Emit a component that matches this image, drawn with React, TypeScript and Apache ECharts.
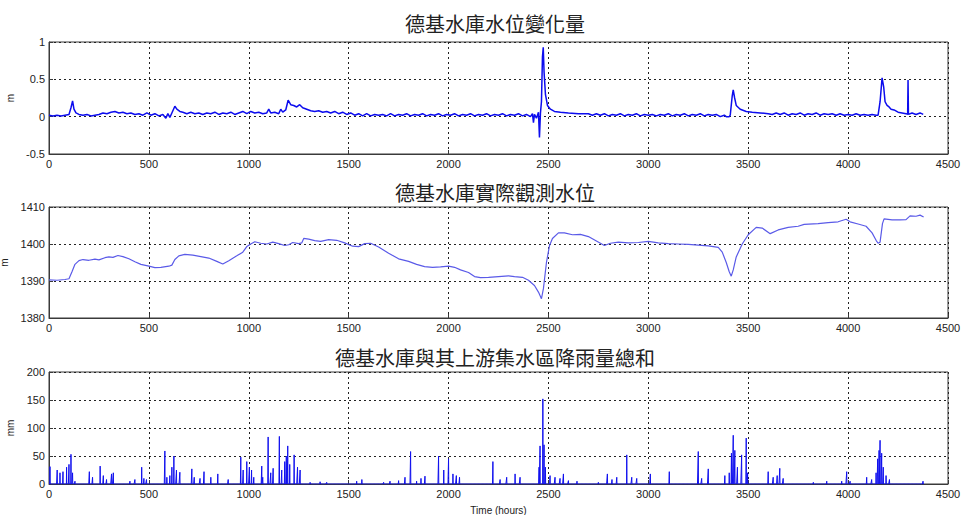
import React, { useEffect, useRef } from 'react';
import * as echarts from 'echarts';

const TITLES = ['德基水庫水位變化量', '德基水庫實際觀測水位', '德基水庫與其上游集水區降雨量總和'];
const Y_NAMES = ['m', 'm', 'mm'];
const X_NAME = 'Time (hours)';
const X_RANGE = [0, 4500, 500];
const Y_RANGES = [
  [-0.5, 1, 0.5],
  [1380, 1410, 10],
  [0, 200, 50],
];
const LAST_HOUR = 4380;

// water level change (m) : [hour, value]
const levelChange: [number, number][] = [
  [0, 0.02], [20, 0.01], [40, 0.02], [60, 0.01], [80, 0.02], [100, 0.03], [110, 0.12], [118, 0.21], [125, 0.1],
  [135, 0.05], [150, 0.03], [170, 0.02], [190, 0.03], [210, 0.01], [230, 0.02], [250, 0.03], [270, 0.05],
  [290, 0.04], [310, 0.06], [330, 0.07], [350, 0.05], [370, 0.06], [390, 0.04], [410, 0.05], [430, 0.03],
  [450, 0.04], [470, 0.02], [490, 0.05], [510, 0.02], [530, 0.04], [550, 0.01], [570, 0.03], [585, -0.02],
  [595, 0.04], [605, -0.01], [615, 0.05], [630, 0.14], [640, 0.1], [655, 0.07], [670, 0.06], [690, 0.04],
  [710, 0.06], [730, 0.04], [750, 0.05], [770, 0.03], [790, 0.05], [810, 0.04], [830, 0.06], [850, 0.03],
  [870, 0.05], [890, 0.04], [910, 0.06], [930, 0.03], [950, 0.05], [970, 0.07], [990, 0.04], [1010, 0.07],
  [1030, 0.05], [1050, 0.06], [1070, 0.04], [1090, 0.05], [1100, 0.1], [1110, 0.05], [1130, 0.06], [1150, 0.04],
  [1160, 0.1], [1170, 0.06], [1185, 0.09], [1197, 0.22], [1210, 0.16], [1225, 0.15], [1240, 0.13], [1255, 0.16],
  [1270, 0.12], [1290, 0.1], [1310, 0.08], [1330, 0.07], [1350, 0.08], [1370, 0.06], [1390, 0.07], [1410, 0.05],
  [1430, 0.07], [1450, 0.04], [1470, 0.06], [1490, 0.03], [1510, 0.05], [1530, 0.02], [1550, 0.04], [1570, 0.01],
  [1590, 0.04], [1610, 0.01], [1630, 0.03], [1650, 0.02], [1670, 0.03], [1690, 0.01], [1710, 0.04], [1730, 0.01],
  [1750, 0.03], [1770, 0.02], [1790, 0.04], [1810, 0.01], [1830, 0.03], [1850, 0.02], [1870, 0.04], [1890, 0.01],
  [1910, 0.03], [1930, 0.02], [1950, 0.04], [1970, 0.01], [1990, 0.03], [2010, 0.02], [2030, 0.04], [2050, 0.01],
  [2070, 0.03], [2090, 0.02], [2110, 0.04], [2130, 0.01], [2150, 0.03], [2170, 0.02], [2190, 0.04], [2210, 0.01],
  [2230, 0.03], [2250, 0.02], [2270, 0.04], [2290, 0.01], [2310, 0.03], [2330, 0.02], [2350, 0.04], [2370, 0.01],
  [2390, 0.03], [2410, 0.0], [2420, 0.04], [2425, -0.08], [2430, 0.03], [2440, -0.02], [2450, 0.06], [2455, -0.28],
  [2460, 0.05], [2465, 0.2], [2470, 0.8], [2474, 0.93], [2478, 0.6], [2485, 0.3], [2495, 0.15], [2510, 0.1],
  [2530, 0.07], [2560, 0.06], [2600, 0.05], [2650, 0.04], [2700, 0.04], [2720, 0.02], [2740, 0.04], [2760, 0.02],
  [2780, 0.04], [2800, 0.01], [2820, 0.03], [2840, 0.02], [2860, 0.04], [2880, 0.01], [2900, 0.03], [2920, 0.02],
  [2940, 0.04], [2960, 0.01], [2980, 0.03], [3000, 0.02], [3020, 0.03], [3040, 0.01], [3060, 0.03], [3080, 0.02],
  [3100, 0.04], [3120, 0.01], [3140, 0.03], [3160, 0.02], [3180, 0.04], [3200, 0.01], [3220, 0.03], [3240, 0.02],
  [3260, 0.04], [3280, 0.01], [3300, 0.03], [3320, 0.02], [3340, 0.03], [3360, 0.0], [3380, 0.02], [3390, 0.0],
  [3405, 0.0], [3410, 0.02], [3420, 0.28], [3425, 0.36], [3432, 0.25], [3440, 0.15], [3460, 0.1], [3490, 0.07],
  [3520, 0.06], [3560, 0.05], [3600, 0.04], [3620, 0.03], [3640, 0.05], [3660, 0.03], [3680, 0.05], [3700, 0.02],
  [3720, 0.04], [3740, 0.03], [3760, 0.05], [3780, 0.02], [3800, 0.04], [3820, 0.03], [3840, 0.05], [3860, 0.02],
  [3880, 0.04], [3900, 0.03], [3920, 0.04], [3940, 0.02], [3960, 0.04], [3980, 0.02], [4000, 0.03], [4020, 0.02],
  [4040, 0.04], [4060, 0.02], [4080, 0.03], [4100, 0.02], [4120, 0.03], [4140, 0.02], [4150, 0.02], [4160, 0.2],
  [4170, 0.52], [4178, 0.4], [4185, 0.2], [4195, 0.15], [4205, 0.13], [4215, 0.1], [4230, 0.09], [4250, 0.06],
  [4270, 0.05], [4290, 0.04], [4298, 0.03], [4300, 0.49], [4302, 0.03], [4320, 0.05], [4340, 0.03], [4360, 0.05],
  [4376, 0.03],
];

// observed water level (m) : [hour, value]
const waterLevel: [number, number][] = [
  [0, 1390.3], [40, 1390.2], [80, 1390.4], [100, 1390.6], [115, 1392.5], [130, 1394.5], [150, 1395.5],
  [170, 1395.8], [200, 1395.6], [230, 1395.9], [250, 1395.7], [280, 1396.3], [300, 1396.5], [320, 1396.4],
  [345, 1396.9], [370, 1396.6], [400, 1396], [430, 1395.2], [460, 1394.5], [500, 1394], [530, 1393.6],
  [560, 1393.7], [600, 1394], [615, 1394.3], [630, 1395.8], [650, 1396.8], [680, 1397.2], [720, 1397],
  [760, 1396.6], [800, 1396.2], [840, 1395.3], [870, 1394.6], [900, 1395.5], [940, 1396.8], [970, 1397.8],
  [990, 1399.3], [1010, 1400], [1030, 1400.6], [1060, 1400.2], [1090, 1400], [1120, 1400.5], [1150, 1400.1],
  [1180, 1399.6], [1200, 1399.8], [1220, 1400.4], [1250, 1400.1], [1265, 1400.3], [1275, 1401.5], [1300, 1401.3],
  [1330, 1400.9], [1360, 1400.7], [1400, 1401.2], [1440, 1401], [1480, 1400.3], [1520, 1399.4], [1550, 1399.3],
  [1580, 1400.1], [1610, 1400.2], [1650, 1399.2], [1700, 1397.5], [1750, 1396], [1800, 1395.3], [1840, 1394.5],
  [1880, 1393.9], [1920, 1393.7], [1960, 1393.8], [2000, 1394], [2030, 1393.7], [2060, 1393], [2100, 1392.3],
  [2130, 1391.2], [2160, 1390.9], [2200, 1391], [2250, 1391.2], [2300, 1391.4], [2330, 1391.2], [2370, 1391],
  [2400, 1390.2], [2430, 1388.8], [2450, 1387], [2465, 1385.2], [2475, 1388], [2490, 1395], [2505, 1399.5],
  [2520, 1401.5], [2550, 1403], [2580, 1403], [2620, 1402.5], [2660, 1402.6], [2700, 1402], [2740, 1400.8],
  [2780, 1399.6], [2810, 1400.2], [2850, 1400.5], [2900, 1400.3], [2950, 1400.4], [3000, 1400.7], [3050, 1400.3],
  [3100, 1400.1], [3150, 1400], [3200, 1399.9], [3250, 1399.7], [3300, 1399.5], [3350, 1399.1], [3370, 1397.8],
  [3390, 1395], [3405, 1392.5], [3415, 1391.3], [3425, 1393], [3440, 1396.5], [3470, 1400], [3500, 1402.5],
  [3540, 1404.5], [3570, 1404.3], [3610, 1402.8], [3650, 1403.8], [3700, 1404.5], [3750, 1404.8], [3780, 1405.3],
  [3850, 1405.5], [3900, 1405.8], [3950, 1406], [3990, 1406.7], [4010, 1406], [4050, 1405.4], [4090, 1404.8],
  [4120, 1403], [4140, 1401], [4150, 1400.2], [4160, 1400.5], [4172, 1405.5], [4180, 1406.8], [4220, 1406.5],
  [4260, 1406.5], [4290, 1406.6], [4310, 1407.6], [4340, 1407.5], [4360, 1407.8], [4378, 1407.3],
];

// rainfall events (mm) : [hour, value]; other hours are 0
const rainEvents: [number, number][] = [
  [5, 31], [41, 25], [55, 20], [70, 22], [88, 30], [100, 35], [110, 53], [118, 20], [130, 5],
  [202, 22], [218, 12], [256, 32], [272, 15], [288, 8], [313, 18], [322, 20], [405, 5], [430, 8],
  [464, 30], [475, 10], [488, 8], [580, 59], [590, 12], [605, 15], [615, 30], [625, 50], [638, 25],
  [655, 21], [715, 27], [727, 12], [756, 10], [776, 22], [810, 12], [845, 18], [897, 8], [960, 48],
  [972, 25], [990, 40], [1003, 30], [1014, 25], [1025, 12], [1065, 32], [1070, 12], [1097, 84], [1110, 20],
  [1122, 28], [1153, 85], [1165, 25], [1180, 40], [1188, 50], [1195, 68], [1205, 35], [1227, 52],
  [1244, 30], [1257, 25], [1307, 3], [1357, 4], [1390, 3], [1540, 5], [1566, 8], [1675, 3], [1707, 5],
  [1750, 6], [1782, 12], [1810, 58], [1840, 5], [1862, 10], [1882, 14], [1950, 50], [1976, 25],
  [2000, 45], [2022, 18], [2039, 15], [2055, 12], [2222, 40], [2258, 8], [2291, 12], [2333, 18],
  [2358, 12], [2453, 30], [2458, 68], [2472, 152], [2478, 70], [2485, 30], [2508, 15], [2533, 12],
  [2558, 10], [2575, 18], [2600, 6], [2643, 5], [2750, 3], [2795, 18], [2818, 8], [2842, 12], [2892, 52],
  [2917, 12], [2942, 10], [3010, 18], [3105, 22], [3250, 58], [3267, 10], [3300, 27], [3383, 15],
  [3405, 20], [3416, 55], [3425, 87], [3433, 60], [3446, 30], [3467, 52], [3490, 82], [3497, 20],
  [3600, 22], [3625, 12], [3645, 15], [3658, 28], [3675, 10], [3826, 3], [3893, 5], [3968, 5], [3993, 22],
  [4010, 5], [4093, 12], [4118, 8], [4140, 20], [4148, 45], [4155, 60], [4160, 78], [4168, 55],
  [4176, 30], [4190, 15], [4207, 8], [4375, 5],
];

function buildRainSeries(): [number, number][] {
  const map = new Map<number, number>(rainEvents);
  const out: [number, number][] = [];
  for (let h = 0; h <= LAST_HOUR; h++) out.push([h, map.get(h) ?? 0]);
  return out;
}

const GRIDS = [
  { top: 42, height: 112 },
  { top: 207, height: 111 },
  { top: 372, height: 112 },
];
const TITLE_Y = [13, 182, 347];
const AXIS_COLOR = '#3a3a3a';
const LABEL_FONT = 'Liberation Sans, Arial, sans-serif';

export default function App() {
  const ref = useRef<HTMLDivElement>(null);
  useEffect(() => {
    if (!ref.current) return;
    const chart = echarts.init(ref.current, undefined, { renderer: 'svg' });
    const grid = GRIDS.map((g) => ({
      left: 49,
      width: 899,
      top: g.top,
      height: g.height,
      containLabel: false,
      outerBoundsMode: 'none',
      show: true,
      borderColor: AXIS_COLOR,
      borderWidth: 1,
      backgroundColor: 'transparent',
    }));
    const xAxis = GRIDS.map((_, i) => ({
      type: 'value',
      gridIndex: i,
      min: X_RANGE[0],
      max: X_RANGE[1],
      interval: X_RANGE[2],
      name: i === 2 ? X_NAME : '',
      nameLocation: 'middle',
      nameGap: 21,
      nameTextStyle: { fontSize: 10, color: '#222', fontFamily: LABEL_FONT },
      axisLine: { show: true, onZero: false, lineStyle: { color: AXIS_COLOR, width: 1 } },
      axisTick: { show: true, inside: true, length: 4, lineStyle: { color: AXIS_COLOR } },
      axisLabel: {
        color: '#222',
        fontSize: 11,
        fontFamily: LABEL_FONT,
        margin: 4,
        formatter: (v: number) => String(v),
      },
      splitLine: { show: true, lineStyle: { type: [2, 3], color: '#222', width: 1 } },
    }));
    const yAxis = GRIDS.map((_, i) => ({
      type: 'value',
      gridIndex: i,
      min: Y_RANGES[i][0],
      max: Y_RANGES[i][1],
      interval: Y_RANGES[i][2],
      name: Y_NAMES[i],
      nameLocation: 'middle',
      nameRotate: 90,
      nameGap: 32,
      nameTextStyle: { fontSize: 10, color: '#222', fontFamily: LABEL_FONT },
      axisLine: { show: true, onZero: false, lineStyle: { color: AXIS_COLOR, width: 1 } },
      axisTick: { show: true, inside: true, length: 4, lineStyle: { color: AXIS_COLOR } },
      axisLabel: {
        color: '#222',
        fontSize: 11,
        fontFamily: LABEL_FONT,
        margin: 4,
        formatter: (v: number) => String(v),
      },
      splitLine: { show: true, lineStyle: { type: [2, 3], color: '#222', width: 1 } },
    }));
    const title = TITLES.map((t, i) => ({
      text: t,
      left: 495,
      top: TITLE_Y[i],
      textAlign: 'center',
      padding: 0,
      textStyle: {
        fontSize: 20,
        fontWeight: 'normal',
        color: '#222',
        fontFamily: 'Noto Sans CJK TC, serif',
      },
    }));
    chart.setOption({
      animation: false,
      backgroundColor: '#ffffff',
      title,
      grid,
      xAxis,
      yAxis,
      series: [
        {
          type: 'line',
          xAxisIndex: 0,
          yAxisIndex: 0,
          data: levelChange,
          showSymbol: false,
          symbol: 'none',
          lineStyle: { color: '#0c0cee', width: 1.5 },
        },
        {
          type: 'line',
          xAxisIndex: 1,
          yAxisIndex: 1,
          data: waterLevel,
          showSymbol: false,
          symbol: 'none',
          lineStyle: { color: '#5a5ae8', width: 1.2 },
        },
        {
          type: 'line',
          xAxisIndex: 2,
          yAxisIndex: 2,
          data: buildRainSeries(),
          showSymbol: false,
          symbol: 'none',
          lineStyle: { color: '#1010ee', width: 1 },
        },
      ],
    });
    return () => chart.dispose();
  }, []);
  return <div ref={ref} style={{ position: 'fixed', left: 0, top: 0, width: 961, height: 515 }} />;
}
